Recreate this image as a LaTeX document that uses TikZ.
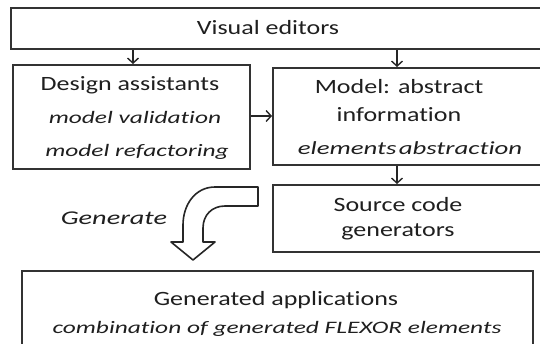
\documentclass[tikz,border=0pt]{standalone}
\usepackage{fontspec}
\setmainfont{Carlito}[FakeStretch=1.28, Ligatures=NoCommon]
\newfontfamily\notefont{Carlito}[FakeStretch=1.45, Ligatures=NoCommon]
\usetikzlibrary{arrows.meta}
\tikzset{
  box/.style={draw=black!80, line width=2pt, fill=white, anchor=north west, inner sep=0pt},
  title/.style={font=\fontsize{20.3}{22}\selectfont, text=black!88, inner sep=0pt},
  note/.style={font=\notefont\fontsize{17.5}{20}\selectfont\itshape, text=black!88, inner sep=0pt},
  flow/.style={draw=black!85, line width=1.4pt, -{Straight Barb[length=5pt,width=11pt,line width=1.4pt]}},
  bigarrow/.style={draw=black!85, line width=1.6pt, fill=white, line join=round}
}
\begin{document}
\begin{tikzpicture}[x=1pt, y=-1pt]
  \clip (0,0) rectangle (540,343);
  \fill[white] (0,0) rectangle (540,343);

  % boxes
  \node[box, minimum width=535pt, minimum height=41pt] (vis) at (10,7) {};
  \node[box, minimum width=237pt, minimum height=104pt] (des) at (12,64) {};
  \node[box, minimum width=273pt, minimum height=97pt] (mod) at (272,67) {};
  \node[box, minimum width=273pt, minimum height=67pt] (src) at (272,184) {};
  \node[box, minimum width=511pt, minimum height=90pt] (gen) at (21,270) {};

  % texts
  \node[title] (tvis) at (268,28) {Visual editors};
  \node[title] (tdes) at (130,85) {Design assistants};
  \node[note] (tval) at (135,117) {model validation};
  \node[note] (tref) at (137,152) {model refactoring};
  \node[title] (tmod1) at (399,87) {Model: abstract};
  \node[title] (tmod2) at (399,115) {information};
  \node[note, font=\notefont\fontsize{18.5}{20}\selectfont\itshape] (tabs) at (410,148) {elements\hspace{0.12em}abstraction};
  \node[title] (tsrc1) at (398,205) {Source code};
  \node[title] (tsrc2) at (398,232) {generators};
  \node[note, font=\notefont\fontsize{19.5}{22}\selectfont\itshape] (tgenerate) at (114,218) {Generate};
  \node[title] (tgen) at (276,300) {Generated applications};
  \node[note] (tcomb) at (277,329) {combination of generated FLEXOR elements};

  % connector x positions
  \coordinate (xa) at (133,0);
  \coordinate (xb) at (397,0);
  \coordinate (ya) at (0,116);

  % connectors
  \draw[flow] (xa |- vis.south) -- (xa |- des.north);
  \draw[flow] (xb |- vis.south) -- (xb |- mod.north);
  \draw[flow] (des.east |- ya) -- (mod.west |- ya);
  \draw[flow] (xb |- mod.south) -- (xb |- src.north);

  % curved block arrow
  \draw[bigarrow] (258,187) -- (215,187)
    .. controls (195,187) and (183,205) .. (183,225)
    -- (183,242) -- (171,242) -- (193,260) -- (215,242) -- (203,242)
    -- (203,228) .. controls (203,215) and (212,206) .. (225,206)
    -- (258,206) -- cycle;
\end{tikzpicture}
\end{document}
